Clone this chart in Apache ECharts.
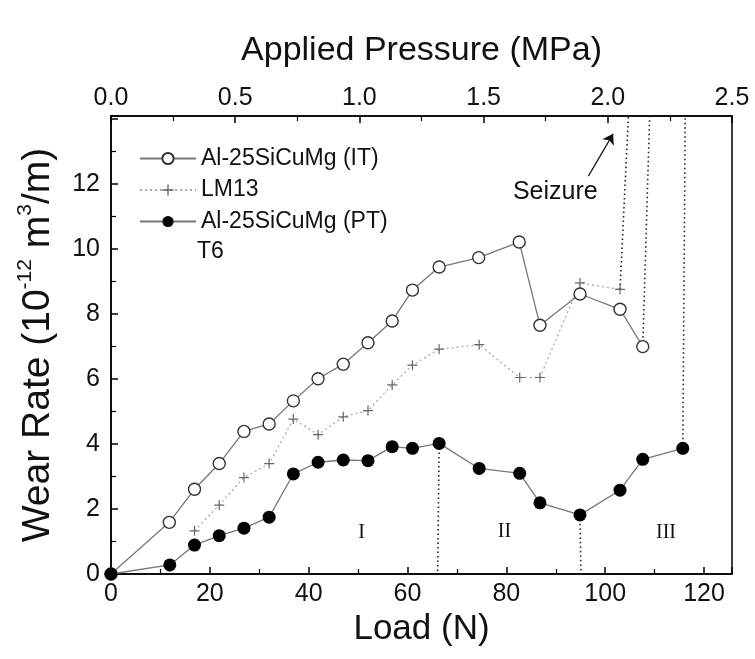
<!DOCTYPE html>
<html>
<head>
<meta charset="utf-8">
<script src="https://cdn.jsdelivr.net/npm/echarts@6/dist/echarts.min.js"></script>
<style>html,body{margin:0;padding:0;background:#fff}#c{width:755px;height:659px}</style>
</head>
<body>
<div id="c"></div>
<script>
// Load (N) values
const loadIT = [0, 11.8, 16.9, 21.9, 26.9, 32.0, 36.9, 41.9, 47.0, 52.0, 56.9, 61.0, 66.4, 74.4, 82.6, 86.8, 94.9, 103.0, 107.6];
const wearIT = [0, 1.59, 2.61, 3.40, 4.39, 4.62, 5.33, 6.01, 6.46, 7.12, 7.79, 8.74, 9.45, 9.74, 10.22, 7.66, 8.62, 8.15, 7.00];
const loadLM = [16.9, 21.9, 26.9, 32.0, 36.9, 41.9, 47.0, 52.0, 56.9, 61.0, 66.4, 74.5, 82.7, 86.8, 94.9, 103.0];
const wearLM = [1.33, 2.12, 2.97, 3.40, 4.77, 4.29, 4.84, 5.03, 5.82, 6.43, 6.92, 7.06, 6.05, 6.05, 8.96, 8.76];
const loadPT = [0, 11.9, 16.9, 21.9, 26.9, 32.0, 36.9, 41.9, 47.0, 52.0, 56.9, 61.0, 66.4, 74.5, 82.7, 86.8, 94.9, 103.0, 107.6, 115.7];
const wearPT = [0, 0.28, 0.89, 1.18, 1.41, 1.75, 3.08, 3.44, 3.51, 3.49, 3.92, 3.87, 4.02, 3.25, 3.10, 2.19, 1.82, 2.58, 3.53, 3.87];
// seizure lines: [x0, y0, x1, y1]
const seizureLM = [103.0, 8.76, 104.7, 14.1];
const seizureIT = [107.6, 7.00, 109.0, 14.1];
const seizurePT = [115.7, 3.87, 116.2, 14.1];
// region boundaries (dotted drops)
const dropA = [66.4, 4.02, 66.1, 0];
const dropB = [94.9, 1.82, 95.1, 0];
// annotations
const regionLabels = ['I', 'II', 'III'];
const regionX = [50.7, 79.6, 112.3];
const regionY = [1.26, 1.30, 1.26];
const seizureText = 'Seizure';
const seizureTextPos = [89.9, 11.76];
const arrowFrom = [96.6, 12.25];
const arrowTo = [101.6, 13.55];
const noteText = 'T6';
// axes
const loadMax = 125.66;
const pressureMax = 2.5;
const wearMax = 14.1;

const zip = (a, b) => a.map((v, i) => [v, b[i]]);
const seg = s => [[s[0], s[1]], [s[2], s[3]]];

const FONT = 'Liberation Sans, Arial, sans-serif';
const dotted = (d) => ({
  type: 'line', data: seg(d), symbol: 'none', silent: true, z: 1,
  lineStyle: { color: '#222', width: 1.6, type: [1.5, 3] }
});

const chart = echarts.init(document.getElementById('c'), null, { renderer: 'canvas' });
chart.setOption({
  animation: false,
  backgroundColor: '#fff',
  grid: { left: 111, right: 23, top: 116, bottom: 85, show: true, borderColor: '#000', borderWidth: 1.5, backgroundColor: 'transparent' },
  legend: {
    left: 134, top: 142, orient: 'vertical', itemWidth: 56, itemHeight: 14, itemGap: 8.5,
    textStyle: { fontFamily: FONT, fontSize: 23, lineHeight: 22, color: '#111' },
    data: ['Al-25SiCuMg (IT)', 'LM13', 'Al-25SiCuMg (PT)'],
    selectedMode: false
  },
  graphic: [{ type: 'text', left: 197, top: 240, style: { text: noteText, font: '23px ' + FONT, fill: '#111' } }],
  xAxis: [{
    type: 'value', position: 'bottom', min: 0, max: loadMax, interval: 20,
    name: 'Load (N)', nameLocation: 'middle', nameGap: 36,
    nameTextStyle: { fontFamily: FONT, fontSize: 35, color: '#111' },
    axisLine: { lineStyle: { color: '#000', width: 1.5 } },
    axisTick: { inside: true, length: 7, lineStyle: { color: '#000', width: 1.5 } },
    minorTick: { show: true, splitNumber: 2, length: 5, lineStyle: { color: '#000', width: 1.2 } },
    splitLine: { show: false },
    axisLabel: { fontFamily: FONT, fontSize: 25, color: '#111', margin: 8, formatter: v => (v % 20 === 0 ? String(v) : '') }
  }, {
    type: 'value', position: 'top', min: 0, max: pressureMax, interval: 0.5,
    name: 'Applied Pressure (MPa)', nameLocation: 'middle', nameGap: 48,
    nameTextStyle: { fontFamily: FONT, fontSize: 34, color: '#111' },
    axisLine: { lineStyle: { color: '#000', width: 1.5 } },
    axisTick: { inside: true, length: 7, lineStyle: { color: '#000', width: 1.5 } },
    minorTick: { show: true, splitNumber: 2, length: 5, lineStyle: { color: '#000', width: 1.2 } },
    splitLine: { show: false },
    axisLabel: { fontFamily: FONT, fontSize: 25, color: '#111', margin: 5, formatter: v => v.toFixed(1) }
  }],
  yAxis: [{
    type: 'value', min: 0, max: wearMax, interval: 2,
    name: '{a|Wear Rate (10}{s|-12}{a| m}{s|3}{a|/m)}', nameLocation: 'middle', nameGap: 50, nameRotate: 90,
    nameTextStyle: { rich: {
      a: { fontFamily: FONT, fontSize: 39, color: '#111', lineHeight: 46 },
      s: { fontFamily: FONT, fontSize: 21, color: '#111', lineHeight: 46, verticalAlign: 'top', padding: [0, 0, 16, 0] }
    } },
    axisLine: { lineStyle: { color: '#000', width: 1.5 } },
    axisTick: { inside: true, length: 7, lineStyle: { color: '#000', width: 1.5 } },
    minorTick: { show: true, splitNumber: 2, length: 5, lineStyle: { color: '#000', width: 1.2 } },
    splitLine: { show: false },
    axisLabel: { fontFamily: FONT, fontSize: 25, color: '#111', margin: 11, formatter: v => (v % 2 === 0 && v < 13 ? String(v) : '') }
  }],
  series: [
    dotted(seizureLM), dotted(seizureIT), dotted(seizurePT), dotted(dropA), dotted(dropB),
    {
      name: 'LM13', type: 'line', data: zip(loadLM, wearLM), z: 3,
      symbol: 'path://M4.4,0H5.6V4.4H10V5.6H5.6V10H4.4V5.6H0V4.4H4.4Z', symbolSize: 10,
      itemStyle: { color: '#666' },
      lineStyle: { color: '#aaa', width: 1.3, type: [2, 3] }
    },
    {
      name: 'Al-25SiCuMg (IT)', type: 'line', data: zip(loadIT, wearIT), z: 4,
      symbol: 'circle', symbolSize: 12, showAllSymbol: true,
      itemStyle: { color: '#fff', borderColor: '#333', borderWidth: 1.4 },
      lineStyle: { color: '#777', width: 1.3 }
    },
    {
      name: 'Al-25SiCuMg (PT)', type: 'line', data: zip(loadPT, wearPT), z: 5,
      symbol: 'circle', symbolSize: 13,
      itemStyle: { color: '#000', borderColor: '#000', borderWidth: 0 },
      lineStyle: { color: '#777', width: 1.3 }
    },
    {
      name: 'regions', type: 'scatter', z: 6, symbolSize: 0, itemStyle: { color: '#000', opacity: 1 },
      data: regionLabels.map((n, i) => ({ name: n, value: [regionX[i], regionY[i]] })),
      label: { show: true, position: 'inside', formatter: p => p.name, fontFamily: 'Liberation Serif, DejaVu Serif, serif', fontSize: 20, color: '#111', opacity: 1 }
    },
    {
      name: 'seizure', type: 'scatter', z: 6, symbolSize: 0, itemStyle: { color: '#000', opacity: 1 },
      data: [{ name: seizureText, value: seizureTextPos }],
      label: { show: true, position: 'inside', formatter: p => p.name, fontFamily: FONT, fontSize: 25, color: '#111', opacity: 1 },
      markLine: {
        silent: true, symbol: ['none', 'arrow'], symbolSize: 10, label: { show: false },
        lineStyle: { color: '#111', width: 1.2, type: 'solid', opacity: 1 },
        data: [[{ coord: arrowFrom }, { coord: arrowTo }]]
      }
    }
  ]
});
</script>
</body>
</html>
